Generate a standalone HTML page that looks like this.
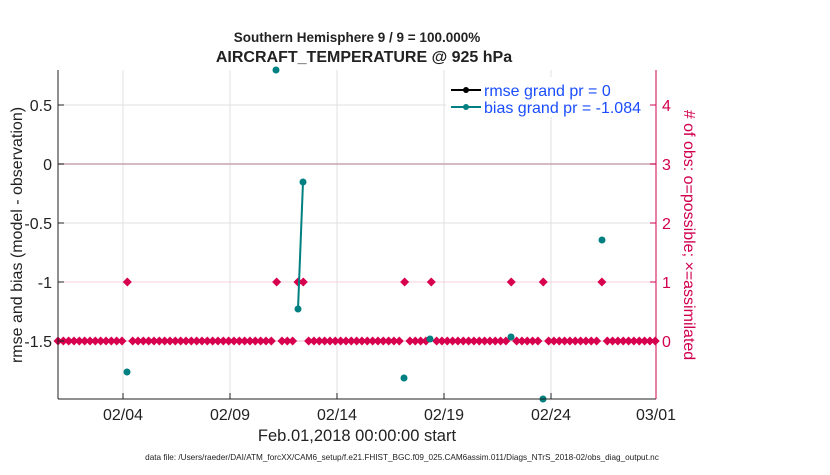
<!DOCTYPE html>
<html><head><meta charset="utf-8"><style>
body{margin:0;background:#fff;}
svg text{font-family:"Liberation Sans",sans-serif;}
</style></head><body>
<svg id="s" width="830" height="470" xmlns="http://www.w3.org/2000/svg">
<rect width="830" height="470" fill="#fff"/>
<g stroke="#e0e0e0" stroke-width="1">
<line x1="123" y1="70" x2="123" y2="399"/><line x1="230" y1="70" x2="230" y2="399"/>
<line x1="337" y1="70" x2="337" y2="399"/><line x1="444" y1="70" x2="444" y2="399"/>
<line x1="551" y1="70" x2="551" y2="399"/>
<line x1="58" y1="105" x2="656" y2="105"/><line x1="58" y1="223" x2="656" y2="223"/>
<line x1="58" y1="341" x2="656" y2="341"/>
</g>
<line x1="58" y1="282" x2="656" y2="282" stroke="#f6d0dc" stroke-width="1"/>
<line x1="58" y1="164" x2="656" y2="164" stroke="#c9a3ad" stroke-width="1.5"/>
<line x1="58" y1="341" x2="656" y2="341" stroke="#f3b8c8" stroke-width="1"/>
<g id="pts"></g>
<polyline points="298,309 303,182" stroke="#008080" stroke-width="2" fill="none"/>
<g fill="#008080">
<circle cx="276" cy="70" r="3.5"/><circle cx="298" cy="309" r="3.5"/><circle cx="303" cy="182" r="3.5"/>
<circle cx="127" cy="372" r="3.5"/><circle cx="404" cy="378" r="3.5"/><circle cx="430" cy="339" r="3.5"/>
<circle cx="511" cy="337" r="3.5"/><circle cx="543" cy="399" r="3.5"/><circle cx="602" cy="240" r="3.5"/>
</g>
<rect x="446" y="77" width="204" height="40" fill="#fff"/>
<line x1="451" y1="90" x2="481" y2="90" stroke="#000" stroke-width="2"/><circle cx="466" cy="90" r="3" fill="#000"/>
<line x1="451" y1="107" x2="481" y2="107" stroke="#008080" stroke-width="2"/><circle cx="466" cy="107" r="3" fill="#008080"/>
<text x="484" y="96" font-size="16" fill="#1a4dff">rmse grand pr = 0</text>
<text x="484" y="113" font-size="16" fill="#1a4dff">bias grand pr = -1.084</text>
<line x1="58" y1="70" x2="58" y2="399" stroke="#222"/>
<line x1="58" y1="399" x2="656" y2="399" stroke="#222"/>
<line x1="656" y1="70" x2="656" y2="399" stroke="#d0004f"/>
<g stroke="#222"><line x1="123" y1="399" x2="123" y2="393"/><line x1="230" y1="399" x2="230" y2="393"/><line x1="337" y1="399" x2="337" y2="393"/><line x1="444" y1="399" x2="444" y2="393"/><line x1="551" y1="399" x2="551" y2="393"/>
<line x1="58" y1="105" x2="64" y2="105"/><line x1="58" y1="164" x2="64" y2="164"/><line x1="58" y1="223" x2="64" y2="223"/><line x1="58" y1="282" x2="64" y2="282"/><line x1="58" y1="341" x2="64" y2="341"/></g>
<g stroke="#d0004f"><line x1="650" y1="105" x2="656" y2="105"/><line x1="650" y1="164" x2="656" y2="164"/><line x1="650" y1="223" x2="656" y2="223"/><line x1="650" y1="282" x2="656" y2="282"/><line x1="650" y1="341" x2="656" y2="341"/></g>
<g font-size="16" fill="#222" text-anchor="end">
<text x="52" y="111">0.5</text><text x="52" y="170">0</text><text x="52" y="229">-0.5</text><text x="52" y="288">-1</text><text x="52" y="347">-1.5</text></g>
<g font-size="16" fill="#d0004f"><text x="662" y="111">4</text><text x="662" y="170">3</text><text x="662" y="229">2</text><text x="662" y="288">1</text><text x="662" y="347">0</text></g>
<g font-size="16" fill="#222" text-anchor="middle">
<text x="123" y="420">02/04</text><text x="230" y="420">02/09</text><text x="337" y="420">02/14</text><text x="444" y="420">02/19</text><text x="551" y="420">02/24</text><text x="656" y="420">03/01</text>
<text x="357" y="441" font-size="16.5">Feb.01,2018 00:00:00 start</text>
<text x="357" y="42" font-size="13.5" font-weight="bold">Southern Hemisphere 9 / 9 = 100.000%</text>
<text x="364" y="62" font-size="16" font-weight="bold">AIRCRAFT_TEMPERATURE @ 925 hPa</text>
<text x="402" y="460" font-size="8.2">data file: /Users/raeder/DAI/ATM_forcXX/CAM6_setup/f.e21.FHIST_BGC.f09_025.CAM6assim.011/Diags_NTrS_2018-02/obs_diag_output.nc</text>
<text transform="translate(22,235) rotate(-90)" font-size="16">rmse and bias (model - observation)</text>
<text transform="translate(684,235) rotate(90)" font-size="16" fill="#d0004f"># of obs: o=possible; ×=assimilated</text>
</g>
</svg>
<script>
var g=document.getElementById('pts'),h='';
var ones=[13,41,45,46,65,70,85,91,102];
for(var i=0;i<=112;i++){var x=58+i*21.33/4;var y=ones.indexOf(i)>=0?282:341;
h+='<path d="M'+x+','+(y-4.5)+' L'+(x+4.5)+','+y+' L'+x+','+(y+4.5)+' L'+(x-4.5)+','+y+'Z" fill="#d6004f"/><path d="M'+(x-3.5)+','+y+'h7M'+x+','+(y-3.5)+'v7" stroke="#d6004f" stroke-width="2"/>';}
g.innerHTML=h;
</script>
</body></html>
